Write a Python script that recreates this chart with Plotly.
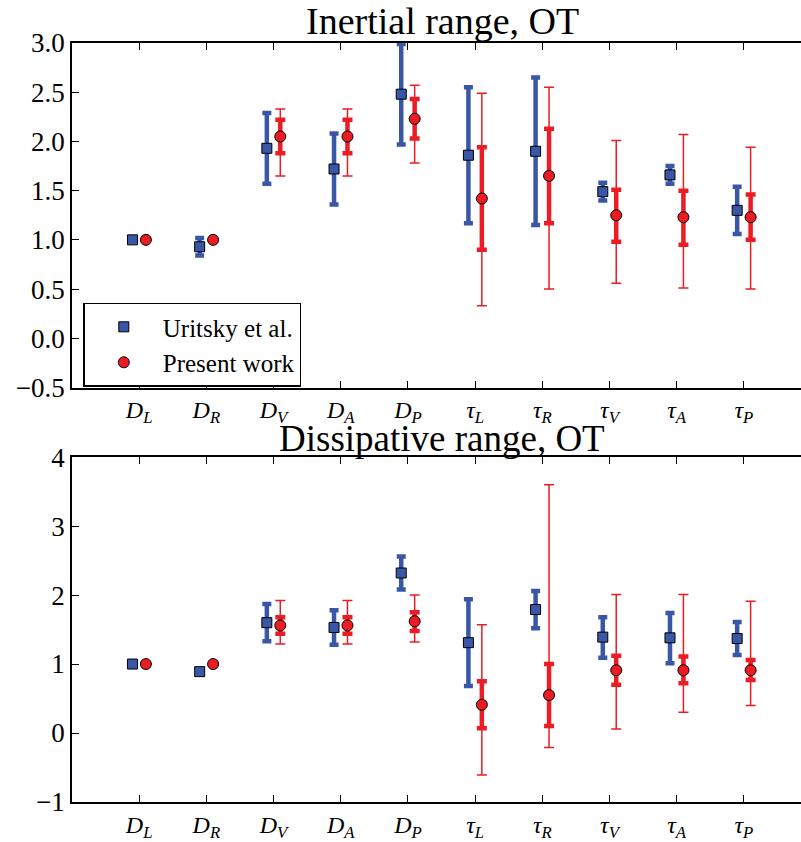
import plotly.graph_objects as go

labels = ["D_L", "D_R", "D_V", "D_A", "D_P", "tau_L", "tau_R", "tau_V", "tau_A", "tau_P"]
tick_text = ["<i>D</i><sub><i>L</i></sub>", "<i>D</i><sub><i>R</i></sub>", "<i>D</i><sub><i>V</i></sub>",
             "<i>D</i><sub><i>A</i></sub>", "<i>D</i><sub><i>P</i></sub>",
             "<i>τ</i><sub><i>L</i></sub>", "<i>τ</i><sub><i>R</i></sub>", "<i>τ</i><sub><i>V</i></sub>",
             "<i>τ</i><sub><i>A</i></sub>", "<i>τ</i><sub><i>P</i></sub>"]
series_names = ["Uritsky et al.", "Present work"]

# ---- Inertial range (top) ----
in_uri_val = [1.00, 0.93, 1.93, 1.72, 2.48, 1.86, 1.90, 1.49, 1.66, 1.30]
in_uri_hi = [1.00, 1.02, 2.29, 2.08, 2.99, 2.55, 2.65, 1.58, 1.75, 1.54]
in_uri_lo = [1.00, 0.84, 1.57, 1.36, 1.97, 1.17, 1.15, 1.40, 1.57, 1.06]
in_pw_val = [1.00, 1.00, 2.05, 2.05, 2.23, 1.42, 1.65, 1.25, 1.23, 1.23]
in_pw_thick_hi = [1.00, 1.00, 2.22, 2.22, 2.43, 1.94, 2.13, 1.51, 1.50, 1.46]
in_pw_thick_lo = [1.00, 1.00, 1.88, 1.88, 2.03, 0.90, 1.17, 0.98, 0.95, 1.00]
in_pw_thin_hi = [1.00, 1.00, 2.33, 2.33, 2.57, 2.49, 2.55, 2.01, 2.07, 1.94]
in_pw_thin_lo = [1.00, 1.00, 1.65, 1.65, 1.78, 0.33, 0.50, 0.56, 0.51, 0.50]

# ---- Dissipative range (bottom) ----
di_uri_val = [1.00, 0.89, 1.60, 1.53, 2.32, 1.31, 1.79, 1.39, 1.38, 1.37]
di_uri_hi = [1.00, 0.89, 1.87, 1.78, 2.56, 1.94, 2.06, 1.68, 1.74, 1.61]
di_uri_lo = [1.00, 0.89, 1.33, 1.28, 2.08, 0.68, 1.52, 1.09, 1.01, 1.13]
di_pw_val = [1.00, 1.00, 1.56, 1.56, 1.62, 0.41, 0.55, 0.91, 0.91, 0.91]
di_pw_thick_hi = [1.00, 1.00, 1.68, 1.68, 1.75, 0.75, 1.00, 1.12, 1.11, 1.06]
di_pw_thick_lo = [1.00, 1.00, 1.44, 1.44, 1.48, 0.07, 0.10, 0.70, 0.72, 0.77]
di_pw_thin_hi = [1.00, 1.00, 1.92, 1.92, 2.00, 1.57, 3.60, 2.01, 2.01, 1.91]
di_pw_thin_lo = [1.00, 1.00, 1.29, 1.29, 1.32, -0.61, -0.21, 0.06, 0.30, 0.40]

BLUE = "#3a56a6"
RED = "#ec1c24"
FONT = "Liberation Serif"
OFFSET = 0.1

idx = list(range(len(labels)))
x_uri = [i - OFFSET for i in idx]
x_pw = [i + OFFSET for i in idx]


def errs(val, hi, lo):
    return [h - v for h, v in zip(hi, val)], [v - l for v, l in zip(val, lo)]


fig = go.Figure()


def add_panel(xa, ya, uval, uhi, ulo, pval, pthi, ptlo, pnhi, pnlo, show):
    up, um = errs(uval, uhi, ulo)
    fig.add_trace(go.Scatter(
        x=x_uri, y=uval, mode="markers", xaxis=xa, yaxis=ya, name=series_names[0],
        showlegend=show, legendgroup="u",
        marker=dict(symbol="square", size=10, color=BLUE, line=dict(color="black", width=1)),
        error_y=dict(type="data", symmetric=False, array=up, arrayminus=um,
                     color=BLUE, thickness=4.5, width=4.5)))
    tp, tm = errs(pval, pnhi, pnlo)
    fig.add_trace(go.Scatter(
        x=x_pw, y=pval, mode="markers", xaxis=xa, yaxis=ya, showlegend=False,
        marker=dict(size=1, color="rgba(0,0,0,0)"), hoverinfo="skip",
        error_y=dict(type="data", symmetric=False, array=tp, arrayminus=tm,
                     color=RED, thickness=1.5, width=5)))
    kp, km = errs(pval, pthi, ptlo)
    fig.add_trace(go.Scatter(
        x=x_pw, y=pval, mode="markers", xaxis=xa, yaxis=ya, name=series_names[1],
        showlegend=show, legendgroup="p",
        marker=dict(symbol="circle", size=11, color=RED, line=dict(color="black", width=1)),
        error_y=dict(type="data", symmetric=False, array=kp, arrayminus=km,
                     color=RED, thickness=4.5, width=5)))


add_panel("x", "y", in_uri_val, in_uri_hi, in_uri_lo, in_pw_val, in_pw_thick_hi,
          in_pw_thick_lo, in_pw_thin_hi, in_pw_thin_lo, True)
add_panel("x2", "y2", di_uri_val, di_uri_hi, di_uri_lo, di_pw_val, di_pw_thick_hi,
          di_pw_thick_lo, di_pw_thin_hi, di_pw_thin_lo, False)

xcommon = dict(range=[-1, 9.85], tickmode="array", tickvals=idx, ticktext=tick_text,
               ticks="inside", ticklen=7, tickwidth=1.2, tickcolor="black",
               showline=True, linecolor="black", linewidth=1.6, mirror="ticks",
               showgrid=False, zeroline=False,
               tickfont=dict(family=FONT, size=24, color="black"))
ycommon = dict(ticks="inside", ticklen=7, tickwidth=1.2, tickcolor="black",
               showline=True, linecolor="black", linewidth=1.6, mirror=False,
               showgrid=False, zeroline=False,
               tickfont=dict(family=FONT, size=27, color="black"))

fig.update_layout(
    width=801, height=842,
    margin=dict(l=72, r=0, t=43, b=36),
    font=dict(family=FONT, color="black"),
    plot_bgcolor="white", paper_bgcolor="white",
    xaxis=dict(domain=[0, 1], anchor="y", **xcommon),
    yaxis=dict(domain=[0.5461, 1], anchor="x", range=[-0.5, 3.0],
               tickvals=[-0.5, 0, 0.5, 1, 1.5, 2, 2.5, 3],
               ticktext=["−0.5", "0.0", "0.5", "1.0", "1.5", "2.0", "2.5", "3.0"], **ycommon),
    xaxis2=dict(domain=[0, 1], anchor="y2", **xcommon),
    yaxis2=dict(domain=[0, 0.4544], anchor="x2", range=[-1, 4],
                tickvals=[-1, 0, 1, 2, 3, 4],
                ticktext=["−1", "0", "1", "2", "3", "4"], **ycommon),
    legend=dict(x=0.0155, y=0.658, xanchor="left", yanchor="top",
                bgcolor="white", bordercolor="black", borderwidth=1.5,
                itemwidth=68, tracegroupgap=0,
                font=dict(family=FONT, size=25, color="black")),
    showlegend=True,
)

fig.add_annotation(text="Inertial range, OT", xref="paper", yref="paper",
                   x=(442.5 - 72) / 729, y=1.0, xanchor="center", yanchor="bottom",
                   yshift=-1, showarrow=False,
                   font=dict(family=FONT, size=38, color="black"))
fig.add_annotation(text="Dissipative range, OT", xref="paper", yref="paper",
                   x=(441.5 - 72) / 729, y=0.4544, xanchor="center", yanchor="bottom",
                   yshift=-4, showarrow=False,
                   font=dict(family=FONT, size=37, color="black"))

fig.write_html("out.html")
